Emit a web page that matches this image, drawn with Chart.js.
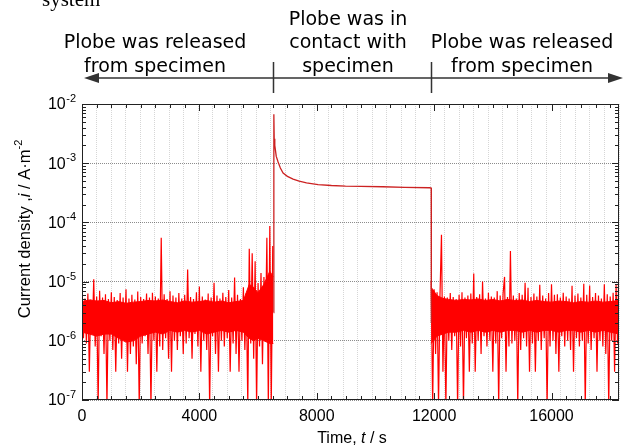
<!DOCTYPE html>
<html>
<head>
<meta charset="utf-8">
<script src="https://cdn.jsdelivr.net/npm/chart.js@4.4.1/dist/chart.umd.min.js"></script>
<style>
    body { margin: 0; background: #fff; }
    canvas { display: block; }
</style>
</head>
<body>
<canvas id="chart_render" width="627" height="446"></canvas>
<script>
//// data

// probe released, one sample every 50 s, current density in uA/m2
let sampleStep = 50;
let releaseStartA = 0;
let releaseA = [
    5.8, 1.1, 5.2, 0.9, 6.3, 0.3, 5.0, 1.3, 11, 0.8,
    5.6, 0.08, 7.0, 1.2, 5.4, 0.6, 6.1, 0.08, 5.1, 1.0,
    6.6, 0.7, 5.5, 0.3, 4.9, 0.9, 6.4, 0.5, 5.4, 1.1,
    7.4, 0.3, 5.2, 0.6, 6.0, 0.8, 5.0, 0.4, 6.8, 0.08,
    5.5, 0.9, 5.1, 1.2, 6.3, 0.6, 5.4, 0.08, 6.5, 1.0,
    5.6, 0.3, 5.2, 0.8, 55, 0.7, 6.1, 1.1, 5.1, 0.5,
    6.9, 0.3, 5.8, 1.0, 5.4, 0.7, 6.4, 1.2, 5.2, 0.6,
    6.0, 0.9, 16, 1.1, 5.5, 0.5, 5.1, 1.3, 6.6, 0.8,
    8.3, 0.3, 5.6, 1.0, 5.0, 0.7, 6.3, 0.08, 5.4, 1.2,
    9.6, 0.6, 5.8, 0.3, 5.2, 1.0, 6.5, 0.8, 5.5, 1.1,
    7.2, 0.3, 5.4, 0.9, 11.7, 0.6, 6.0, 0.3, 5.1, 1.0,
    8.0, 0.7, 6.4, 0.08, 36, 0.9, 30, 0.5, 22, 0.08,
    9.5, 0.8, 14, 0.4, 12, 1.0, 55, 0.08, 87, 0.08,
    40
];
let releaseStartB = 11900;
let releaseB = [
    10, 0.08, 7.4, 0.6, 6.6, 0.08, 6.1, 62, 0.3, 5.6,
    0.08, 5.4, 1.0, 6.4, 0.7, 5.5, 1.2, 5.1, 0.08, 6.0,
    0.8, 6.6, 0.08, 5.4, 1.1, 5.8, 0.3, 6.3, 0.9, 13.7,
    0.3, 5.5, 1.0, 6.1, 0.6, 10, 1.2, 5.2, 0.8, 6.5,
    1.0, 5.6, 0.3, 5.4, 0.9, 6.9, 0.08, 5.8, 1.1, 6.3,
    12, 0.3, 5.5, 0.8, 33, 0.9, 5.8, 1.0, 5.2, 0.08,
    6.4, 0.7, 6.0, 1.1, 9.6, 0.8, 7.9, 0.3, 5.5, 0.9,
    6.3, 0.3, 5.6, 1.0, 8.8, 0.7, 5.8, 1.1, 5.2, 0.08,
    6.4, 0.8, 9.0, 1.0, 6.0, 0.6, 6.1, 0.3, 5.4, 1.2,
    6.5, 0.8, 5.6, 1.0, 5.2, 0.7, 8.5, 0.3, 5.8, 1.1,
    6.3, 0.8, 5.4, 1.0, 9.2, 0.08, 6.0, 0.9, 8.6, 0.7,
    5.5, 1.1, 6.4, 0.3, 5.8, 1.0, 5.2, 0.8, 9.0, 0.6,
    6.1, 0.08, 5.6, 1.0, 6.5, 0.3, 8.8, 0.9, 30
];

// edges of the solid noise band, uA/m2
let bandTimeA = [0, 250, 500, 750, 1000, 1250, 1500, 1750, 2000, 2250, 2500, 2750, 3000, 3250,
    3500, 3750, 4000, 4250, 4500, 4750, 5000, 5250, 5500, 5700, 5850, 6000, 6200, 6400, 6520];
let bandUpperA = [4.6, 4.9, 4.7, 4.8, 4.4, 4.6, 4.3, 4.5, 4.6, 4.8, 4.7, 4.9, 4.6, 4.4,
    4.7, 4.5, 4.6, 4.8, 4.5, 4.7, 4.4, 4.6, 4.8, 9.0, 8.0, 6.5, 9.0, 15, 12];
let bandLowerA = [1.4, 1.3, 1.2, 1.3, 1.3, 1.1, 0.95, 1.0, 1.2, 1.3, 1.4, 1.3, 1.5, 1.4,
    1.5, 1.4, 1.5, 1.3, 1.4, 1.5, 1.4, 1.5, 1.4, 1.1, 1.0, 1.1, 1.0, 0.9, 0.9];
let bandTimeB = [11900, 12100, 12300, 12500, 12750, 13000, 13250, 13500, 13750, 14000, 14250,
    14500, 14750, 15000, 15250, 15500, 15750, 16000, 16250, 16500, 16750, 17000, 17250,
    17500, 17750, 18000, 18300];
let bandUpperB = [8.0, 5.8, 5.2, 5.0, 4.8, 5.0, 4.9, 5.1, 4.8, 5.0, 4.7, 5.0, 4.8, 4.9, 4.6,
    4.8, 4.6, 4.5, 4.7, 4.6, 4.4, 4.6, 4.5, 4.7, 4.5, 4.6, 4.8];
let bandLowerB = [0.9, 1.2, 1.3, 1.4, 1.4, 1.5, 1.4, 1.5, 1.4, 1.5, 1.4, 1.5, 1.5, 1.4, 1.5,
    1.4, 1.5, 1.5, 1.4, 1.5, 1.5, 1.4, 1.5, 1.4, 1.5, 1.4, 1.3];

// probe in contact, time in s and current density in A/m2
let contactTime = [6530, 6538, 6550, 6570, 6620, 6683, 6760, 6853, 7000, 7193,
    7400, 7650, 8044, 8500, 8977, 9500, 10247, 11000, 11847, 11900, 11905];
let contactCurrent = [3.0e-6, 6.7e-3, 2.6e-3, 2.0e-3, 1.3e-3, 1.05e-3, 8.3e-4, 6.8e-4, 6.0e-4, 5.4e-4,
    5.0e-4, 4.65e-4, 4.35e-4, 4.2e-4, 4.1e-4, 4.05e-4, 4.0e-4, 3.92e-4, 3.85e-4, 3.8e-4, 2.0e-6];

let xTickLabels = [0, 4000, 8000, 12000, 16000];
let yTickExponents = [-7, -6, -5, -4, -3, -2];
let phaseTexts = [
    ['Plobe was released', 'from specimen'],
    ['Plobe was in', 'contact with', 'specimen'],
    ['Plobe was released', 'from specimen']
];
let phaseBounds = [6500, 11900];

//// build points

function toPoints(values, start) {
    return values.map(function(v, i) {
        return { x: start + i * sampleStep, y: v * 1e-6 };
    });
}

function pairPoints(times, values, scale) {
    return times.map(function(t, i) {
        return { x: t, y: values[i] * scale };
    });
}

function isDecade(v) {
    let e = Math.log10(v);
    return Math.abs(e - Math.round(e)) < 1e-6;
}

//// frame, inward ticks, labels and notes

let sansFont = '"Liberation Sans", Arial, sans-serif';

let decorations = {
    id: 'decorations',
    afterDraw(chart) {
        let ctx = chart.ctx;
        let area = chart.chartArea;
        let xs = chart.scales.x;
        let ys = chart.scales.y;
        ctx.save();

        // frame
        ctx.strokeStyle = '#222';
        ctx.lineWidth = 1;
        ctx.strokeRect(area.left + 0.5, area.top + 0.5, area.right - area.left - 1, area.bottom - area.top - 1);

        // x ticks, inward on bottom and top
        ctx.beginPath();
        for (let t = 0; t <= xs.max; t += 500) {
            let px = Math.round(xs.getPixelForValue(t)) + 0.5;
            let len = t % 4000 === 0 ? 7 : 4;
            ctx.moveTo(px, area.bottom);
            ctx.lineTo(px, area.bottom - len);
            ctx.moveTo(px, area.top);
            ctx.lineTo(px, area.top + len);
        }
        // y ticks, inward on left and right
        for (let e = -7; e <= -2; e++) {
            for (let m = 1; m <= 9; m++) {
                let v = m * Math.pow(10, e);
                if (v > ys.max * 1.0001) break;
                let py = Math.round(ys.getPixelForValue(v)) + 0.5;
                let len = m === 1 ? 7 : 4;
                ctx.moveTo(area.left, py);
                ctx.lineTo(area.left + len, py);
                ctx.moveTo(area.right, py);
                ctx.lineTo(area.right - len, py);
            }
        }
        ctx.stroke();

        ctx.fillStyle = '#000';

        // y tick labels 10^n
        ctx.textBaseline = 'middle';
        yTickExponents.forEach(function(e) {
            let py = ys.getPixelForValue(Math.pow(10, e));
            ctx.font = '11px ' + sansFont;
            let expText = '-' + Math.abs(e);
            let expWidth = ctx.measureText(expText).width;
            let right = area.left - 6;
            ctx.textAlign = 'left';
            ctx.fillText(expText, right - expWidth, py - 5);
            ctx.font = '16px ' + sansFont;
            ctx.textAlign = 'right';
            ctx.fillText('10', right - expWidth - 0.5, py + 1);
        });

        // x tick labels
        ctx.font = '16px ' + sansFont;
        ctx.textAlign = 'center';
        xTickLabels.forEach(function(t) {
            ctx.fillText(String(t), xs.getPixelForValue(t), area.bottom + 17);
        });

        // x title with italic t
        drawPieces(ctx, [
            { text: 'Time, ', font: '16px ' + sansFont },
            { text: 't', font: 'italic 16px ' + sansFont },
            { text: ' / s', font: '16px ' + sansFont }
        ], 352, area.bottom + 39);

        // y title, rotated
        ctx.save();
        ctx.translate(25, 229);
        ctx.rotate(-Math.PI / 2);
        drawPieces(ctx, [
            { text: 'Current density ,', font: '16.5px ' + sansFont },
            { text: 'i', font: 'italic 16.5px ' + sansFont },
            { text: ' / A\u00b7m', font: '16.5px ' + sansFont },
            { text: '-2', font: '11px ' + sansFont, rise: 6 }
        ], 0, 0);
        ctx.restore();

        // caption cut off at the top
        ctx.font = '21px "Liberation Serif", serif';
        ctx.textAlign = 'left';
        ctx.textBaseline = 'alphabetic';
        ctx.fillText('system', 42, 6);

        // phase notes
        ctx.font = '19px "DejaVu Sans", sans-serif';
        ctx.textAlign = 'center';
        ctx.textBaseline = 'middle';
        let noteCenters = [155, 348, 522];
        phaseTexts.forEach(function(lines, k) {
            let firstY = 67 - (lines.length - 1) * 23.5;
            lines.forEach(function(line, j) {
                ctx.fillText(line, noteCenters[k], firstY + j * 23.5);
            });
        });

        // double arrow with phase markers
        ctx.strokeStyle = '#333';
        ctx.fillStyle = '#333';
        ctx.lineWidth = 1.5;
        ctx.beginPath();
        ctx.moveTo(92, 78);
        ctx.lineTo(614, 78);
        phaseBounds.forEach(function(t) {
            let px = Math.round(xs.getPixelForValue(t)) + 0.5;
            ctx.moveTo(px, 62);
            ctx.lineTo(px, 93);
        });
        ctx.stroke();
        ctx.beginPath();
        ctx.moveTo(84, 78);
        ctx.lineTo(99, 73);
        ctx.lineTo(99, 83);
        ctx.closePath();
        ctx.moveTo(623, 78);
        ctx.lineTo(608, 73);
        ctx.lineTo(608, 83);
        ctx.closePath();
        ctx.fill();

        ctx.restore();
    }
};

function drawPieces(ctx, pieces, cx, cy) {
    let total = 0;
    pieces.forEach(function(p) {
        ctx.font = p.font;
        p.width = ctx.measureText(p.text).width;
        total += p.width;
    });
    let x = cx - total / 2;
    ctx.textAlign = 'left';
    ctx.textBaseline = 'middle';
    pieces.forEach(function(p) {
        ctx.font = p.font;
        ctx.fillText(p.text, x, cy - (p.rise || 0));
        x += p.width;
    });
}

//// chart

function noiseSet(label, points) {
    return { label: label, data: points, borderColor: '#ff0000', borderWidth: 1.2, fill: false };
}

function bandSet(label, points, fill) {
    return { label: label, data: points, borderColor: '#ff0000', borderWidth: 1,
        backgroundColor: '#ff0000', fill: fill };
}

function renderChart() {
    let ctx = document.getElementById('chart_render').getContext('2d');
    new Chart(ctx, {
        type: 'line',
        data: {
            datasets: [
                noiseSet('released before contact', toPoints(releaseA, releaseStartA)),
                {
                    label: 'in contact',
                    data: pairPoints(contactTime, contactCurrent, 1),
                    borderColor: '#cc2222',
                    borderWidth: 1.3,
                    fill: false
                },
                noiseSet('released after contact', toPoints(releaseB, releaseStartB)),
                bandSet('band A upper', pairPoints(bandTimeA, bandUpperA, 1e-6), '+1'),
                bandSet('band A lower', pairPoints(bandTimeA, bandLowerA, 1e-6), false),
                bandSet('band B upper', pairPoints(bandTimeB, bandUpperB, 1e-6), '+1'),
                bandSet('band B lower', pairPoints(bandTimeB, bandLowerB, 1e-6), false)
            ]
        },
        options: {
            responsive: false,
            animation: false,
            events: [],
            layout: { padding: { left: 82, right: 8, top: 104, bottom: 46 } },
            elements: { point: { radius: 0 }, line: { tension: 0 } },
            plugins: { legend: { display: false }, tooltip: { enabled: false } },
            scales: {
                x: {
                    type: 'linear',
                    min: 0,
                    max: 18300,
                    ticks: { display: false, stepSize: 500 },
                    grid: { color: 'rgba(0,0,0,0.16)', drawTicks: false },
                    border: { display: false, dash: [1, 1] }
                },
                y: {
                    type: 'logarithmic',
                    min: 1e-7,
                    max: 1e-2,
                    ticks: { display: false },
                    grid: {
                        drawTicks: false,
                        color: function(context) {
                            return context.tick && isDecade(context.tick.value) ? 'rgba(0,0,0,0.45)' : 'rgba(0,0,0,0)';
                        }
                    },
                    border: { display: false, dash: [1, 1] }
                }
            }
        },
        plugins: [decorations]
    });
}

renderChart();
</script>
</body>
</html>
